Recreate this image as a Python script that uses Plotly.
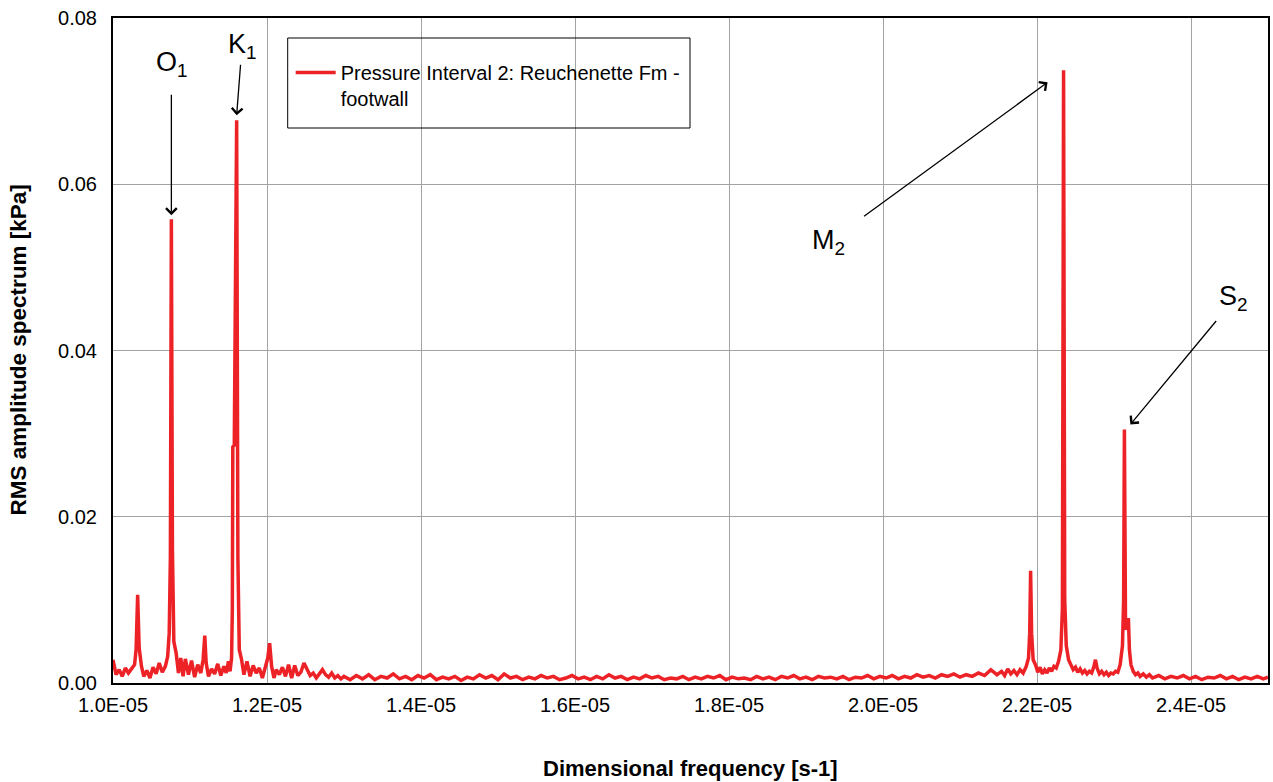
import plotly.graph_objects as go

# Frequencies in units of 1E-05 s-1
freq_e5 = [
    1.000, 1.004, 1.008, 1.012, 1.016, 1.020, 1.024, 1.028, 1.030, 1.032,
    1.034, 1.037, 1.040, 1.044, 1.048, 1.052, 1.056, 1.060, 1.064, 1.068,
    1.071, 1.073, 1.0745, 1.0758, 1.0772, 1.079, 1.082, 1.085, 1.088, 1.091,
    1.094, 1.098, 1.102, 1.106, 1.110, 1.114, 1.117, 1.1192, 1.121, 1.124,
    1.128, 1.132, 1.136, 1.140, 1.144, 1.147, 1.150, 1.152, 1.1540, 1.1550,
    1.1556, 1.1575, 1.1606, 1.1622, 1.1640, 1.167, 1.170, 1.174, 1.178, 1.182,
    1.186, 1.190, 1.194, 1.198, 1.201, 1.2034, 1.206, 1.209, 1.212, 1.216,
    1.220, 1.224, 1.228, 1.232, 1.236, 1.240, 1.244, 1.248, 1.252, 1.256,
    1.260, 1.264, 1.268, 1.272, 1.276, 1.280, 1.284, 1.288, 1.292, 1.296,
    1.300,
    1.308, 1.316, 1.324, 1.332, 1.340, 1.348, 1.356, 1.364, 1.372, 1.380,
    1.388, 1.396, 1.404, 1.412, 1.420, 1.428, 1.436, 1.444, 1.452, 1.460,
    1.468, 1.476, 1.484, 1.492, 1.500, 1.508, 1.516, 1.524, 1.532, 1.540,
    1.548, 1.556, 1.564, 1.572, 1.580, 1.588, 1.596, 1.604, 1.612, 1.620,
    1.628, 1.636, 1.644, 1.652, 1.660, 1.668, 1.676, 1.684, 1.692, 1.700,
    1.708, 1.716, 1.724, 1.732, 1.740, 1.748, 1.756, 1.764, 1.772, 1.780,
    1.788, 1.796, 1.804, 1.812, 1.820, 1.828, 1.836, 1.844, 1.852, 1.860,
    1.868, 1.876, 1.884, 1.892, 1.900, 1.908, 1.916, 1.924, 1.932, 1.940,
    1.948, 1.956, 1.964, 1.972, 1.980, 1.988, 1.996, 2.004, 2.012, 2.020,
    2.028, 2.036, 2.044, 2.052, 2.060, 2.068, 2.076, 2.084, 2.092, 2.100,
    2.108, 2.116, 2.124, 2.132, 2.140, 2.148,
    2.154, 2.158, 2.162, 2.166, 2.170, 2.174, 2.178, 2.182, 2.186, 2.189,
    2.1905, 2.1917, 2.1930, 2.195, 2.198, 2.201, 2.204, 2.207, 2.210, 2.213,
    2.216, 2.219, 2.222, 2.225, 2.228, 2.231, 2.2330, 2.2345, 2.2360, 2.238,
    2.241, 2.244, 2.247, 2.250, 2.253, 2.256, 2.259, 2.262, 2.265, 2.268,
    2.271, 2.274, 2.2759, 2.278, 2.281, 2.284, 2.287, 2.290, 2.293, 2.296,
    2.299, 2.302, 2.305, 2.308, 2.311, 2.3125, 2.3135, 2.3150, 2.3170, 2.3187,
    2.3200, 2.322, 2.325, 2.328, 2.331, 2.334, 2.338, 2.342, 2.346, 2.350,
    2.358, 2.366, 2.374, 2.382, 2.390, 2.398, 2.406, 2.414, 2.422, 2.430,
    2.438, 2.446, 2.454, 2.462, 2.470, 2.478, 2.486, 2.494, 2.500,
]

# RMS amplitude [kPa]
amplitude = [
    0.0028, 0.0010, 0.0016, 0.0008, 0.0018, 0.0012, 0.0017, 0.0022, 0.0040, 0.0106,
    0.0042, 0.0020, 0.0008, 0.0015, 0.0006, 0.0019, 0.0011, 0.0024, 0.0013, 0.0020,
    0.0032, 0.0060, 0.0150, 0.0558, 0.0160, 0.0050, 0.0036, 0.0012, 0.0030, 0.0008,
    0.0029, 0.0010, 0.0027, 0.0007, 0.0022, 0.0012, 0.0028, 0.0057, 0.0024, 0.0008,
    0.0017, 0.0011, 0.0023, 0.0009, 0.0020, 0.0012, 0.0026, 0.0014, 0.0030, 0.0090,
    0.0284, 0.0286, 0.0677, 0.0150, 0.0040, 0.0028, 0.0010, 0.0026, 0.0008, 0.0021,
    0.0012, 0.0018, 0.0006, 0.0022, 0.0030, 0.0048, 0.0020, 0.0006, 0.0016, 0.0010,
    0.0019, 0.0008, 0.0022, 0.0006, 0.0021, 0.0009, 0.0013, 0.0024, 0.0016, 0.0009,
    0.0012, 0.0006, 0.0011, 0.0016, 0.0010, 0.0007, 0.0012, 0.0006, 0.0009, 0.0005,
    0.0008,
    0.0004, 0.0009, 0.0005, 0.0010, 0.0004, 0.0008, 0.0006, 0.0011, 0.0005, 0.0008,
    0.0004, 0.0009, 0.0006, 0.0010, 0.0004, 0.0007, 0.0005, 0.0008, 0.0003, 0.0007,
    0.0005, 0.0010, 0.0006, 0.0009, 0.0004, 0.0011, 0.0006, 0.0008, 0.0004, 0.0007,
    0.0005, 0.0009, 0.0006, 0.0008, 0.0004, 0.0006, 0.0009, 0.0005, 0.0007, 0.0004,
    0.0008, 0.0005, 0.0010, 0.0006, 0.0008, 0.0004, 0.0007, 0.0005, 0.0009, 0.0006,
    0.0008, 0.0004, 0.0006, 0.0005, 0.0008, 0.0004, 0.0007, 0.0005, 0.0008, 0.0006,
    0.0009, 0.0004, 0.0007, 0.0005, 0.0006, 0.0004, 0.0008, 0.0005, 0.0007, 0.0004,
    0.0008, 0.0006, 0.0009, 0.0005, 0.0007, 0.0004, 0.0008, 0.0006, 0.0007, 0.0005,
    0.0008, 0.0004, 0.0007, 0.0006, 0.0009, 0.0005, 0.0008, 0.0006, 0.0009, 0.0005,
    0.0008, 0.0006, 0.0010, 0.0007, 0.0009, 0.0006, 0.0010, 0.0008, 0.0011, 0.0007,
    0.0010, 0.0008, 0.0012, 0.0009, 0.0016, 0.0010,
    0.0014, 0.0009, 0.0017, 0.0011, 0.0015, 0.0010, 0.0016, 0.0012, 0.0020, 0.0030,
    0.0060, 0.0135, 0.0060, 0.0028, 0.0022, 0.0013, 0.0019, 0.0011, 0.0016, 0.0012,
    0.0018, 0.0014, 0.0020, 0.0018, 0.0026, 0.0040, 0.0090, 0.0737, 0.0100, 0.0045,
    0.0028, 0.0022, 0.0016, 0.0019, 0.0013, 0.0017, 0.0012, 0.0015, 0.0011, 0.0014,
    0.0012, 0.0020, 0.0028, 0.0018, 0.0011, 0.0014, 0.0010, 0.0013, 0.0009, 0.0012,
    0.0011, 0.0014, 0.0013, 0.0022, 0.0045, 0.0100, 0.0305, 0.0064, 0.0070, 0.0078,
    0.0040, 0.0022, 0.0014, 0.0010, 0.0012, 0.0008, 0.0011, 0.0007, 0.0010, 0.0006,
    0.0009, 0.0005, 0.0008, 0.0006, 0.0009, 0.0005, 0.0008, 0.0004, 0.0007, 0.0006,
    0.0009, 0.0005, 0.0008, 0.0004, 0.0007, 0.0005, 0.0008, 0.0005, 0.0007,
]

series_name = "Pressure Interval 2: Reuchenette Fm -<br>footwall"

x_tick_values_e5 = [1.0, 1.2, 1.4, 1.6, 1.8, 2.0, 2.2, 2.4]
x_tick_labels = ["1.0E-05", "1.2E-05", "1.4E-05", "1.6E-05", "1.8E-05", "2.0E-05", "2.2E-05", "2.4E-05"]
y_tick_values = [0.00, 0.02, 0.04, 0.06, 0.08]

# Tidal constituents: label and the peak frequency (1E-05 s-1) they mark
constituent_labels = ["O<sub>1</sub>", "K<sub>1</sub>", "M<sub>2</sub>", "S<sub>2</sub>"]
constituent_freq_e5 = [1.0758, 1.1606, 2.2345, 2.3135]

freq = [f * 1e-5 for f in freq_e5]
x_ticks = [f * 1e-5 for f in x_tick_values_e5]

FONT = "Liberation Sans, Arial, sans-serif"
RED = "rgb(236,34,39)"

W, H = 1273, 782
L, T, R, B = 113, 18, 3, 99
PW, PH = W - L - R, H - T - B

fig = go.Figure()
fig.add_trace(go.Scatter(
    x=freq, y=amplitude, mode="lines", name=series_name,
    line=dict(color=RED, width=3.5),
))

fig.update_layout(
    width=W, height=H,
    margin=dict(l=L, r=R, t=T, b=B),
    paper_bgcolor="white", plot_bgcolor="white",
    font=dict(family=FONT, size=20, color="black"),
    showlegend=True,
    legend=dict(
        x=(291 - 113) / PW, y=1 - (45 - 10) / PH, xanchor="left", yanchor="top",
        bgcolor="rgba(0,0,0,0)", borderwidth=0,
        font=dict(family=FONT, size=20, color="black"),
        valign="top", itemwidth=40, tracegroupgap=0,
    ),
)

fig.update_xaxes(
    range=[1e-5, 2.5e-5], tickvals=x_ticks, ticktext=x_tick_labels,
    showgrid=True, gridcolor="#a3a3a3", gridwidth=1,
    showline=True, linecolor="black", linewidth=2, mirror=True,
    ticks="", zeroline=False, ticklabelstandoff=3, ticklabeloverflow="allow",
    tickfont=dict(family=FONT, size=20),
)
fig.update_yaxes(
    range=[0, 0.08], tickvals=y_tick_values, tickformat=".2f",
    showgrid=True, gridcolor="#a3a3a3", gridwidth=1,
    showline=True, linecolor="black", linewidth=2, mirror=True,
    ticks="", zeroline=False, ticklabelstandoff=10, ticklabeloverflow="allow",
    tickfont=dict(family=FONT, size=20),
)

# legend frame
fig.add_shape(type="rect", xref="paper", yref="paper",
              x0=(288 - 113) / PW, x1=(691 - 113) / PW,
              y0=(683 - 128) / PH, y1=(683 - 38) / PH,
              line=dict(color="black", width=1), fillcolor="rgba(0,0,0,0)")

# axis titles
fig.add_annotation(text="<b>Dimensional frequency [s-1]</b>", xref="paper", yref="paper",
                   x=0.5, y=0, yshift=-85, yanchor="middle", xanchor="center", showarrow=False,
                   font=dict(family=FONT, size=22))
fig.add_annotation(text="<b>RMS amplitude spectrum [kPa]</b>", xref="paper", yref="paper",
                   x=0, y=0.5, xshift=-95, xanchor="center", yanchor="middle",
                   textangle=-90, showarrow=False,
                   font=dict(family=FONT, size=22.5))

# arrows (head offset from peak, tail offset from head) and labels (offset from peak)
arrow_spec = [
    (0, 4, 0, -122, 1, 155),
    (0, 5, 4, -52, 6, 74),
    (-16, -12, -185, 135, -235, -172),
    (6, 5, 87, -105, 109, 131),
]
for label, cf, (hx, hy, ax, ay, tx, ty) in zip(constituent_labels, constituent_freq_e5, arrow_spec):
    idx = freq_e5.index(cf)
    fig.add_annotation(x=freq[idx], y=amplitude[idx], xshift=hx, yshift=hy,
                       text="", showarrow=True, ax=ax, ay=ay,
                       arrowhead=4, arrowsize=1.6, arrowwidth=1.3, arrowcolor="black")
    fig.add_annotation(x=freq[idx], y=amplitude[idx], xshift=tx, yshift=ty,
                       text=label, showarrow=False,
                       font=dict(family=FONT, size=27, color="black"))

fig.write_html("out.html",
               config={"displayModeBar": False},
               post_script="document.body.style.margin='0';document.body.style.overflow='hidden';")
